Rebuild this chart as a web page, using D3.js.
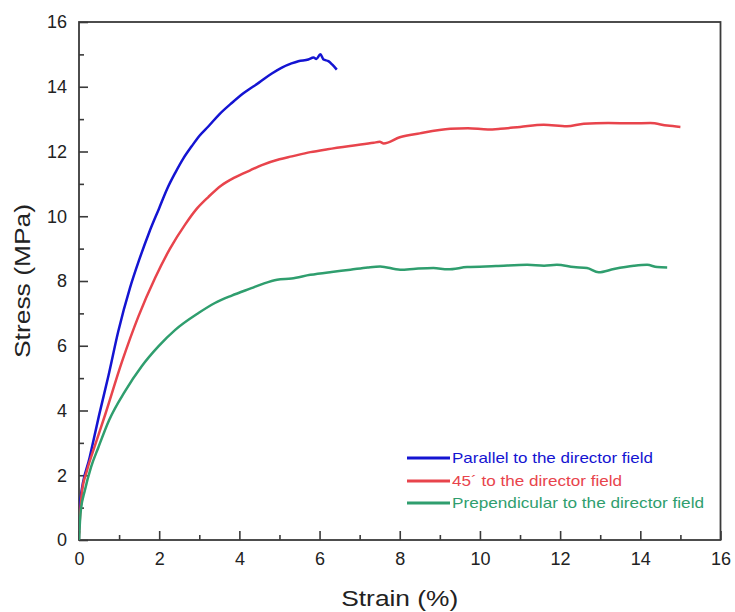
<!DOCTYPE html>
<html>
<head>
<meta charset="utf-8">
<script src="https://cdn.jsdelivr.net/npm/d3@7"></script>
<style>
  body { margin: 0; background: #fff; }
  svg { display: block; font-family: "Liberation Sans", Arial, sans-serif; }
</style>
</head>
<body>
<div id="chart"></div>
<script>
// strain (%) / stress (MPa)
const parallel = [
  [0, 0.3], [0.03, 1.2], [0.27, 2.57], [0.5, 3.85], [0.73, 5.05], [0.98, 6.45],
  [1.27, 7.78], [1.5, 8.65], [1.75, 9.5], [2.0, 10.25], [2.2, 10.85], [2.4, 11.34],
  [2.6, 11.78], [2.81, 12.16], [3.0, 12.48], [3.23, 12.78], [3.5, 13.15], [3.81, 13.5],
  [4.1, 13.8], [4.48, 14.12], [4.8, 14.4], [5.06, 14.59], [5.3, 14.72], [5.47, 14.79],
  [5.72, 14.84], [5.85, 14.9], [5.92, 14.86], [6.02, 15.0], [6.1, 14.84], [6.22, 14.79],
  [6.32, 14.68], [6.43, 14.53]
];
const deg45 = [
  [0, 0.2], [0.07, 1.45], [0.2, 2.15], [0.38, 2.85], [0.66, 3.9], [1.07, 5.5],
  [1.48, 6.9], [1.9, 8.1], [2.27, 9.0], [2.65, 9.75], [2.95, 10.25],
  [3.23, 10.6], [3.55, 10.95], [3.89, 11.2], [4.27, 11.42], [4.56, 11.58], [5.0, 11.76],
  [5.31, 11.85], [5.77, 11.98], [6.2, 12.07], [6.81, 12.18], [7.35, 12.27], [7.5, 12.3],
  [7.6, 12.25], [8.0, 12.44], [8.5, 12.56], [9.26, 12.7], [9.7, 12.72], [10.2, 12.68],
  [10.51, 12.7], [11.0, 12.76], [11.59, 12.83], [12.17, 12.78], [12.59, 12.86],
  [13.2, 12.88], [13.8, 12.87], [14.25, 12.88], [14.67, 12.8], [15.0, 12.76]
];
const perpendicular = [
  [0, 0], [0.04, 0.85], [0.15, 1.55], [0.3, 2.25], [0.48, 2.85], [0.75, 3.7],
  [1.15, 4.6], [1.56, 5.36], [1.98, 5.98], [2.4, 6.49], [2.98, 7.01], [3.39, 7.32],
  [3.81, 7.55], [4.3, 7.78], [4.6, 7.92], [4.94, 8.04], [5.3, 8.08], [5.77, 8.19],
  [6.3, 8.28], [6.77, 8.35], [7.2, 8.42], [7.51, 8.45], [8.01, 8.35], [8.4, 8.38],
  [8.84, 8.40], [9.2, 8.36], [9.68, 8.43], [10.4, 8.46], [11.18, 8.5], [11.6, 8.47],
  [11.92, 8.5], [12.34, 8.43], [12.67, 8.40], [12.96, 8.27], [13.34, 8.37],
  [13.84, 8.47], [14.17, 8.5], [14.42, 8.43], [14.67, 8.42]
];

const seriesNames = [
  "Parallel to the director field",
  "45\u00b4 to the director field",
  "Prependicular to the director field"
];
const seriesColors = ["#1414d2", "#e8444c", "#2f9e6e"];
const seriesData = [parallel, deg45, perpendicular];

const xTicks = [0, 2, 4, 6, 8, 10, 12, 14, 16];
const yTicks = [0, 2, 4, 6, 8, 10, 12, 14, 16];

const width = 735;
const height = 612;
const margin = { left: 79, right: 14, top: 22, bottom: 72 };
const axisColor = "#3a3a3a";

const svg = d3.select("#chart").append("svg")
  .attr("width", width)
  .attr("height", height);

const x = d3.scaleLinear().domain([0, 16]).range([margin.left, width - margin.right - 0.5]);
const y = d3.scaleLinear().domain([0, 16]).range([height - margin.bottom, margin.top]);

const plotW = x(16) - x(0);
const plotH = y(0) - y(16);

// minor ticks sit between the labelled ones
const xMinor = d3.range(1, 16, 2);
const yMinor = d3.range(1, 16, 2);

function styleAxis(g) {
  g.select(".domain").remove();
  g.selectAll(".tick line").attr("stroke", axisColor).attr("stroke-width", 1.6);
  g.selectAll(".tick text")
    .attr("fill", "#222")
    .attr("font-size", 18);
}

svg.append("g")
  .attr("transform", `translate(0,${y(0)})`)
  .call(d3.axisBottom(x).tickValues(xTicks).tickSize(-9).tickPadding(12).tickFormat(d3.format("d")))
  .call(styleAxis);

svg.append("g")
  .attr("transform", `translate(0,${y(0)})`)
  .call(d3.axisBottom(x).tickValues(xMinor).tickSize(-5).tickFormat(""))
  .call(styleAxis);

svg.append("g")
  .attr("transform", `translate(${x(0)},0)`)
  .call(d3.axisLeft(y).tickValues(yTicks).tickSize(-9).tickPadding(12).tickFormat(d3.format("d")))
  .call(styleAxis);

svg.append("g")
  .attr("transform", `translate(${x(0)},0)`)
  .call(d3.axisLeft(y).tickValues(yMinor).tickSize(-5).tickFormat(""))
  .call(styleAxis);

// frame
svg.append("rect")
  .attr("x", x(0))
  .attr("y", y(16))
  .attr("width", plotW)
  .attr("height", plotH)
  .attr("fill", "none")
  .attr("stroke", axisColor)
  .attr("stroke-width", 1.8);

const line = d3.line()
  .x((d) => x(d[0]))
  .y((d) => y(d[1]))
  .curve(d3.curveMonotoneX);

const clipId = "plot-clip";
svg.append("clipPath").attr("id", clipId)
  .append("rect")
  .attr("x", x(0))
  .attr("y", y(16))
  .attr("width", plotW)
  .attr("height", plotH);

seriesData.forEach((data, i) => {
  svg.append("path")
    .attr("d", line(data))
    .attr("clip-path", `url(#${clipId})`)
    .attr("fill", "none")
    .attr("stroke", seriesColors[i])
    .attr("stroke-width", 2.5)
    .attr("stroke-linejoin", "round");
});

// legend (the reference text runs wide, so fix its length)
const legendX = 407;
const legendY = [458, 481, 503];
const legendWidths = [201, 170, 252];
seriesNames.forEach((name, i) => {
  svg.append("line")
    .attr("x1", legendX)
    .attr("x2", legendX + 43)
    .attr("y1", legendY[i])
    .attr("y2", legendY[i])
    .attr("stroke", seriesColors[i])
    .attr("stroke-width", 3);
  svg.append("text")
    .attr("x", legendX + 45)
    .attr("y", legendY[i] + 5)
    .attr("fill", seriesColors[i])
    .attr("font-size", 15)
    .attr("textLength", legendWidths[i])
    .attr("lengthAdjust", "spacingAndGlyphs")
    .text(name);
});

// axis titles
svg.append("text")
  .attr("x", (x(0) + x(16)) / 2)
  .attr("y", 606)
  .attr("text-anchor", "middle")
  .attr("fill", "#222")
  .attr("font-size", 22)
  .attr("textLength", 117)
  .attr("lengthAdjust", "spacingAndGlyphs")
  .text("Strain (%)");

svg.append("text")
  .attr("transform", `translate(30,${(y(0) + y(16)) / 2}) rotate(-90)`)
  .attr("text-anchor", "middle")
  .attr("fill", "#222")
  .attr("font-size", 22)
  .attr("textLength", 154)
  .attr("lengthAdjust", "spacingAndGlyphs")
  .text("Stress (MPa)");
</script>
</body>
</html>
